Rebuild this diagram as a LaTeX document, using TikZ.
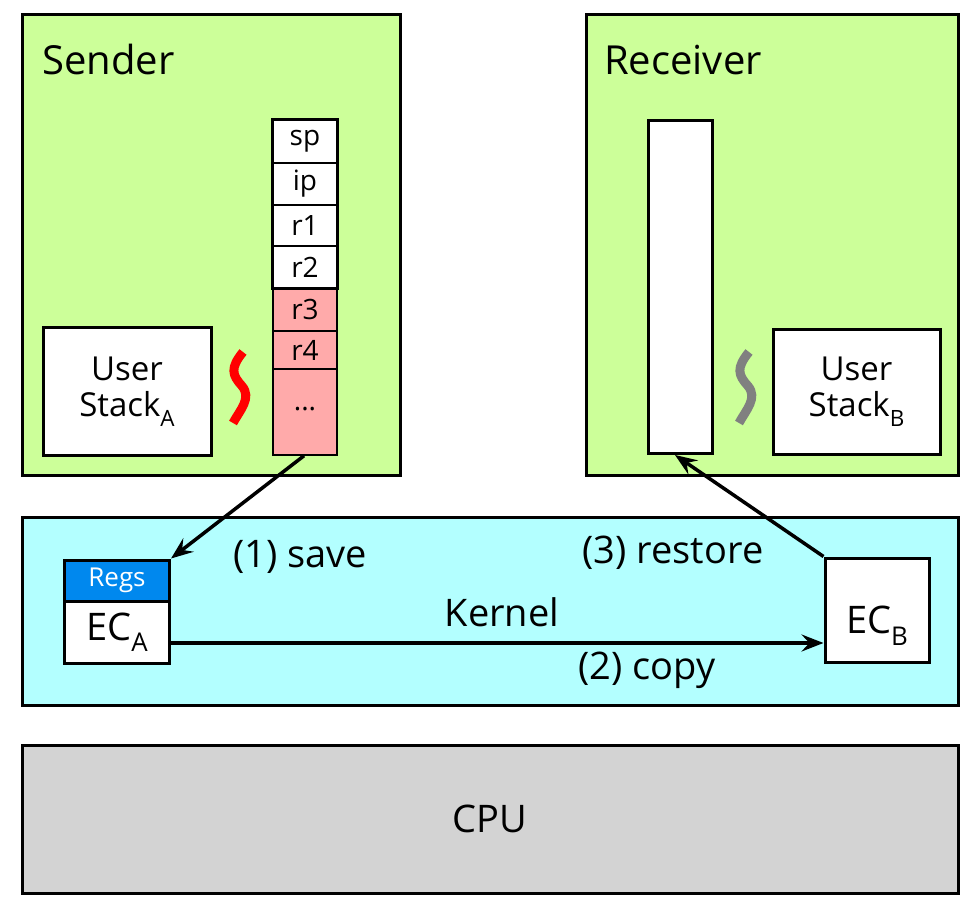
\documentclass[tikz,border=0pt]{standalone}
\usepackage{fontspec}
\setmainfont{Open Sans}
\usetikzlibrary{arrows.meta}
\definecolor{boxgreen}{HTML}{CCFF99}
\definecolor{boxcyan}{HTML}{B3FFFF}
\definecolor{cellpink}{HTML}{FFAAAA}
\definecolor{regblue}{HTML}{0088EE}
\definecolor{cpugray}{HTML}{D3D3D3}
\newcommand\lsub[1]{\raisebox{-0.3em}{\scalebox{0.68}{#1}}}
\tikzset{
  bigbox/.style={draw=black, line width=3pt, rectangle, inner sep=0pt},
  whitebox/.style={draw=black, line width=3pt, fill=white, rectangle, inner sep=0pt, align=center, font=\fontsize{33}{40}\selectfont},
  cellw/.style={draw=black, line width=1.5pt, fill=white, rectangle, inner sep=0pt, minimum width=64pt, font=\fontsize{28}{32}\selectfont},
  cellp/.style={cellw, fill=cellpink},
  lbl/.style={inner sep=0pt, font=\fontsize{38}{44}\selectfont},
  arr/.style={line width=3.5pt, -{Stealth[length=22pt,width=17pt,inset=8pt]}},
  squig/.style={line width=9pt}
}
\begin{document}
\begin{tikzpicture}[x=1pt,y=-1pt]
\useasboundingbox (0,0) rectangle (975,901);
% Sender / Receiver
\node[bigbox, fill=boxgreen, minimum width=378pt, minimum height=460pt] (sender) at (211,245) {};
\node[bigbox, fill=boxgreen, minimum width=372pt, minimum height=460pt] (receiver) at (772,245) {};
\node[lbl, anchor=west, font=\fontsize{40}{46}\selectfont] (sendlbl) at (42,60) {Sender};
\node[lbl, anchor=west, font=\fontsize{40}{46}\selectfont] (recvlbl) at (604,60) {Receiver};
% Kernel and CPU
\node[bigbox, fill=boxcyan, minimum width=936pt, minimum height=188pt] (kernel) at (490,611) {};
\node[bigbox, fill=cpugray, minimum width=936pt, minimum height=148pt, font=\fontsize{38}{44}\selectfont] (cpu) at (490,819) {CPU};
\node[lbl] (kernlbl) at (502,612) {Kernel};
% stack cells
\node[cellw, minimum height=43pt] (sp) at (305,141.5) {sp};
\node[cellw, minimum height=42pt] (ip) at (305,184) {ip};
\node[cellw, minimum height=41pt] (r1) at (305,225.5) {r1};
\node[cellw, minimum height=42pt] (r2) at (305,267) {r2};
\node[cellp, minimum height=43pt] (r3) at (305,309.5) {r3};
\node[cellp, minimum height=39pt] (r4) at (305,350.5) {r4};
\node[cellp, minimum height=86pt] (dots) at (305,412) {\raisebox{6pt}{...}};
\draw[line width=3pt] (sp.north west) rectangle (r2.south east);
% user stacks
\node[whitebox, minimum width=168pt, minimum height=127pt] (usa) at (127,391.5) {User\\[-4pt]Stack\lsub{A}};
\node[whitebox, minimum width=167pt, minimum height=124pt] (usb) at (856.5,392) {User\\[-4pt]Stack\lsub{B}};
% receiver column
\node[whitebox, minimum width=64pt, minimum height=333pt] (rcol) at (680,287) {};
% squiggles
\draw[squig, red, line cap=butt] (243,352) .. controls (230,368) and (232,375) .. (242,386) .. controls (252,398) and (240,410) .. (233,423);
\draw[squig, gray, line cap=butt] (749,352) .. controls (736,368) and (738,375) .. (748,386) .. controls (758,398) and (746,410) .. (739,423);
% ECs
\node[whitebox, minimum width=105pt, minimum height=62pt, font=\fontsize{38}{44}\selectfont] (eca) at (117,632) {EC\lsub{A}};
\node[whitebox, fill=regblue, text=white, minimum width=105pt, minimum height=41pt, font=\fontsize{26}{30}\selectfont] (regs) at (117,580.5) {Regs};
\node[whitebox, minimum width=104pt, minimum height=104pt, font=\fontsize{38}{44}\selectfont, text depth=0pt] (ecb) at (877,610) {\raisebox{-20pt}{EC\lsub{B}}};
% labels
\node[lbl] (save) at (300,557) {(1) save};
\node[lbl] (restore) at (673,553) {(3) restore};
\node[lbl] (copy) at (647,670) {(2) copy};
% arrows
\draw[arr] ([xshift=-1pt]dots.south) -- (regs.north east);
\draw[arr] (eca.east |- 0,643) -- (ecb.west |- 0,643);
\draw[arr] (ecb.north west) -- ([xshift=-5pt]rcol.south);
\end{tikzpicture}
\end{document}
